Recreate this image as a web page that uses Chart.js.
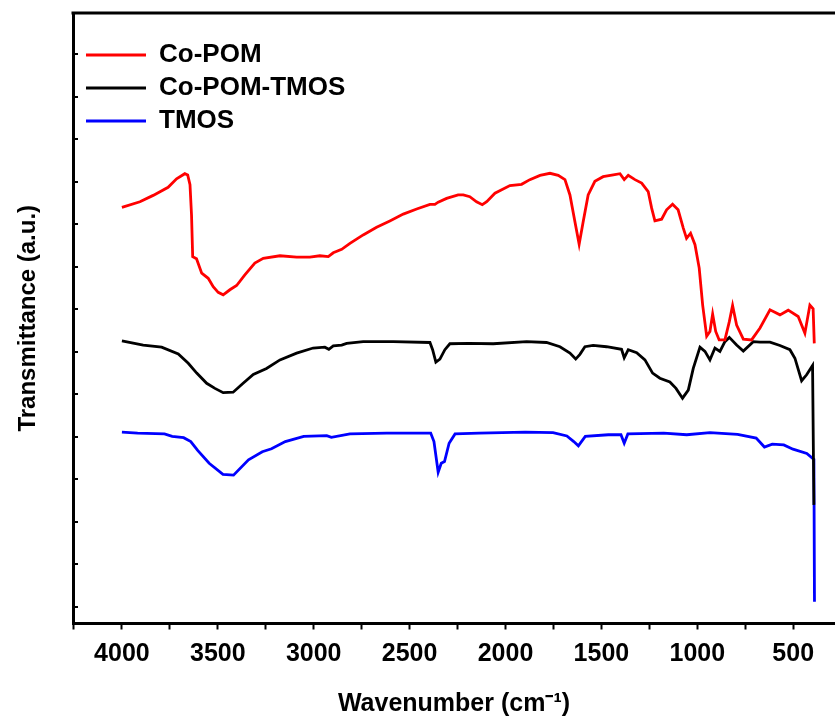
<!DOCTYPE html>
<html>
<head>
<meta charset="utf-8">
<title>FTIR spectra</title>
<script src="https://cdn.jsdelivr.net/npm/chart.js@4.4.0/dist/chart.umd.min.js"></script>
<style>
  html, body { margin: 0; padding: 0; background: #fff; overflow: hidden; }
  #ftir { display: block; }
</style>
</head>
<body>
<canvas id="ftir" width="835" height="721"></canvas>
<script>
// wavenumbers (cm-1) and transmittance (arbitrary units, offset curves)
const coPomWn = [4000, 3906, 3837, 3759, 3715, 3672, 3657, 3645, 3637, 3631, 3611, 3584, 3550, 3524, 3498, 3472, 3437, 3402, 3359, 3307, 3263, 3176, 3089, 3020, 2968, 2924, 2898, 2854, 2811, 2742, 2672, 2603, 2533, 2463, 2394, 2368, 2351, 2307, 2247, 2220, 2186, 2151, 2121, 2098, 2055, 1977, 1916, 1873, 1820, 1768, 1725, 1690, 1664, 1638, 1616, 1595, 1569, 1534, 1491, 1438, 1403, 1381, 1360, 1325, 1290, 1256, 1238, 1221, 1186, 1160, 1129, 1100, 1073, 1056, 1035, 1012, 990, 972, 951, 934, 920, 904, 886, 856, 833, 816, 795, 760, 717, 673, 621, 569, 526, 474, 439, 413, 396, 390];
const coPomT = [94.0, 95.3, 96.8, 98.7, 100.7, 101.9, 101.6, 99.3, 92.2, 82.4, 81.9, 78.5, 77.3, 75.3, 74.0, 73.4, 74.6, 75.6, 78.1, 80.9, 82.0, 82.6, 82.3, 82.3, 82.6, 82.4, 83.3, 84.1, 85.5, 87.5, 89.3, 90.8, 92.4, 93.6, 94.7, 94.7, 95.2, 96.1, 96.9, 96.9, 96.5, 95.3, 94.6, 95.3, 97.3, 99.1, 99.4, 100.5, 101.5, 102.0, 101.5, 100.5, 96.9, 90.6, 85.3, 90.6, 96.9, 100.1, 101.2, 101.6, 101.9, 100.5, 101.5, 100.5, 99.7, 97.7, 93.8, 90.8, 91.2, 93.4, 94.7, 93.4, 89.1, 86.7, 87.9, 85.2, 79.7, 71.0, 63.7, 64.8, 68.9, 64.8, 62.8, 62.8, 67.1, 70.9, 66.3, 63.0, 62.8, 65.6, 69.9, 68.7, 69.8, 68.3, 64.4, 71.0, 70.1, 62.0];

const coPomTmosWn = [4000, 3889, 3793, 3706, 3654, 3610, 3558, 3515, 3472, 3420, 3368, 3315, 3246, 3176, 3089, 3003, 2942, 2921, 2898, 2854, 2828, 2742, 2585, 2394, 2380, 2363, 2342, 2316, 2290, 2194, 2064, 1890, 1786, 1716, 1664, 1634, 1612, 1586, 1543, 1473, 1395, 1381, 1360, 1316, 1273, 1233, 1195, 1143, 1111, 1077, 1047, 1021, 986, 960, 934, 908, 882, 856, 833, 795, 760, 708, 673, 621, 569, 517, 491, 456, 430, 399, 392];
const coPomTmosT = [62.6, 61.6, 61.1, 59.5, 57.3, 55.0, 52.6, 51.4, 50.4, 50.5, 52.6, 54.7, 56.1, 58.1, 59.7, 60.9, 61.1, 60.6, 61.4, 61.6, 62.0, 62.4, 62.4, 62.2, 60.5, 57.6, 58.3, 60.5, 61.9, 62.0, 61.9, 62.4, 62.2, 61.2, 59.7, 58.3, 59.4, 61.2, 61.5, 61.2, 60.6, 58.6, 60.5, 59.8, 58.1, 55.0, 53.8, 52.9, 51.4, 49.1, 51.0, 56.1, 61.1, 60.1, 58.1, 60.9, 60.1, 62.4, 63.4, 61.6, 60.2, 62.4, 62.3, 62.3, 61.5, 60.5, 58.5, 53.2, 54.6, 56.8, 24.0];

const tmosWn = [4000, 3918, 3778, 3738, 3678, 3641, 3605, 3545, 3473, 3418, 3340, 3268, 3220, 3148, 3052, 2932, 2908, 2811, 2619, 2390, 2373, 2351, 2335, 2318, 2294, 2263, 2138, 1897, 1752, 1680, 1644, 1620, 1584, 1464, 1398, 1381, 1362, 1175, 1055, 934, 790, 693, 650, 609, 549, 501, 429, 392, 389];
const tmosT = [41.1, 40.9, 40.7, 40.1, 39.8, 38.9, 36.8, 33.8, 31.2, 31.0, 34.6, 36.5, 37.2, 38.9, 40.1, 40.3, 39.9, 40.7, 40.9, 40.9, 38.9, 31.7, 33.8, 34.2, 38.5, 40.7, 40.9, 41.1, 41.0, 40.2, 38.9, 37.9, 40.1, 40.5, 40.5, 38.5, 40.7, 40.9, 40.5, 41.0, 40.6, 39.7, 37.6, 38.3, 38.1, 37.1, 36.1, 34.7, 1.2];

const seriesNames = ['Co-POM', 'Co-POM-TMOS', 'TMOS'];
const xTicks = [4250, 4000, 3750, 3500, 3250, 3000, 2750, 2500, 2250, 2000, 1750, 1500, 1250, 1000, 750, 500];
const yTicks = [0, 10, 20, 30, 40, 50, 60, 70, 80, 90, 100, 110, 120, 130];

const pts = (wn, t) => wn.map((w, i) => ({x: w, y: t[i]}));
const FONT = "'Liberation Sans', Arial, Helvetica, sans-serif";

// top frame line + inward y ticks, and nudge the legend into place
const frame = {
    id: 'frame',
    afterLayout(chart) {
        chart.legend.left += 6;
        chart.legend.top += 35;
    },
    afterDraw(chart) {
        const {ctx, chartArea: a, scales: {y}} = chart;
        ctx.save();
        ctx.strokeStyle = '#000';
        ctx.lineWidth = 3;
        ctx.beginPath();
        ctx.moveTo(a.left - 1.5, a.top);
        ctx.lineTo(a.right, a.top);
        ctx.stroke();
        ctx.lineWidth = 2;
        y.ticks.forEach(t => {
            const py = Math.round(y.getPixelForValue(t.value));
            ctx.beginPath();
            ctx.moveTo(a.left, py);
            ctx.lineTo(a.left + 5, py);
            ctx.stroke();
        });
        ctx.restore();
    }
};

new Chart(document.getElementById('ftir'), {
    type: 'line',
    data: {
        datasets: [
            {label: seriesNames[0], data: pts(coPomWn, coPomT), borderColor: '#ff0000', backgroundColor: '#ff0000', borderWidth: 2.8},
            {label: seriesNames[1], data: pts(coPomTmosWn, coPomTmosT), borderColor: '#000000', backgroundColor: '#000000', borderWidth: 2.8},
            {label: seriesNames[2], data: pts(tmosWn, tmosT), borderColor: '#0000ff', backgroundColor: '#0000ff', borderWidth: 2.8}
        ]
    },
    options: {
        responsive: false,
        animation: false,
        layout: {padding: {top: 13, right: 0, left: 0, bottom: 0}},
        elements: {
            line: {tension: 0},
            point: {radius: 0}
        },
        plugins: {
            tooltip: {enabled: false},
            legend: {
                position: 'chartArea',
                align: 'start',
                labels: {
                    usePointStyle: true,
                    pointStyle: 'line',
                    pointStyleWidth: 60,
                    padding: 7,
                    color: '#000',
                    font: {family: FONT, size: 26, weight: 'bold'}
                }
            }
        },
        scales: {
            x: {
                type: 'linear',
                reverse: true,
                min: 282,
                max: 4255,
                afterBuildTicks: s => { s.ticks = xTicks.map(v => ({value: v})); },
                afterFit: s => { s.height = 97.5; },
                grid: {display: true, drawOnChartArea: false, drawTicks: true, tickLength: 6, tickWidth: 2, color: '#000'},
                border: {display: true, color: '#000', width: 3},
                ticks: {
                    autoSkip: false,
                    maxRotation: 0,
                    minRotation: 0,
                    padding: 10,
                    color: '#000',
                    font: {family: FONT, size: 25, weight: 'bold'},
                    callback: v => (v % 500 === 0 ? v : '')
                },
                title: {
                    display: true,
                    text: 'Wavenumber (cm\u207B\u00B9)',
                    color: '#000',
                    font: {family: FONT, size: 25, weight: 'bold'},
                    padding: {top: 0, bottom: 2}
                }
            },
            y: {
                min: -3.9,
                max: 139.7,
                afterBuildTicks: s => { s.ticks = yTicks.map(v => ({value: v})); },
                afterFit: s => { s.width = 73; },
                grid: {display: false},
                border: {display: true, color: '#000', width: 3},
                ticks: {display: false},
                title: {
                    display: true,
                    text: 'Transmittance (a.u.)',
                    color: '#000',
                    font: {family: FONT, size: 24, weight: 'bold'},
                    padding: {top: 14, bottom: 0}
                }
            }
        }
    },
    plugins: [frame]
});
</script>
</body>
</html>
